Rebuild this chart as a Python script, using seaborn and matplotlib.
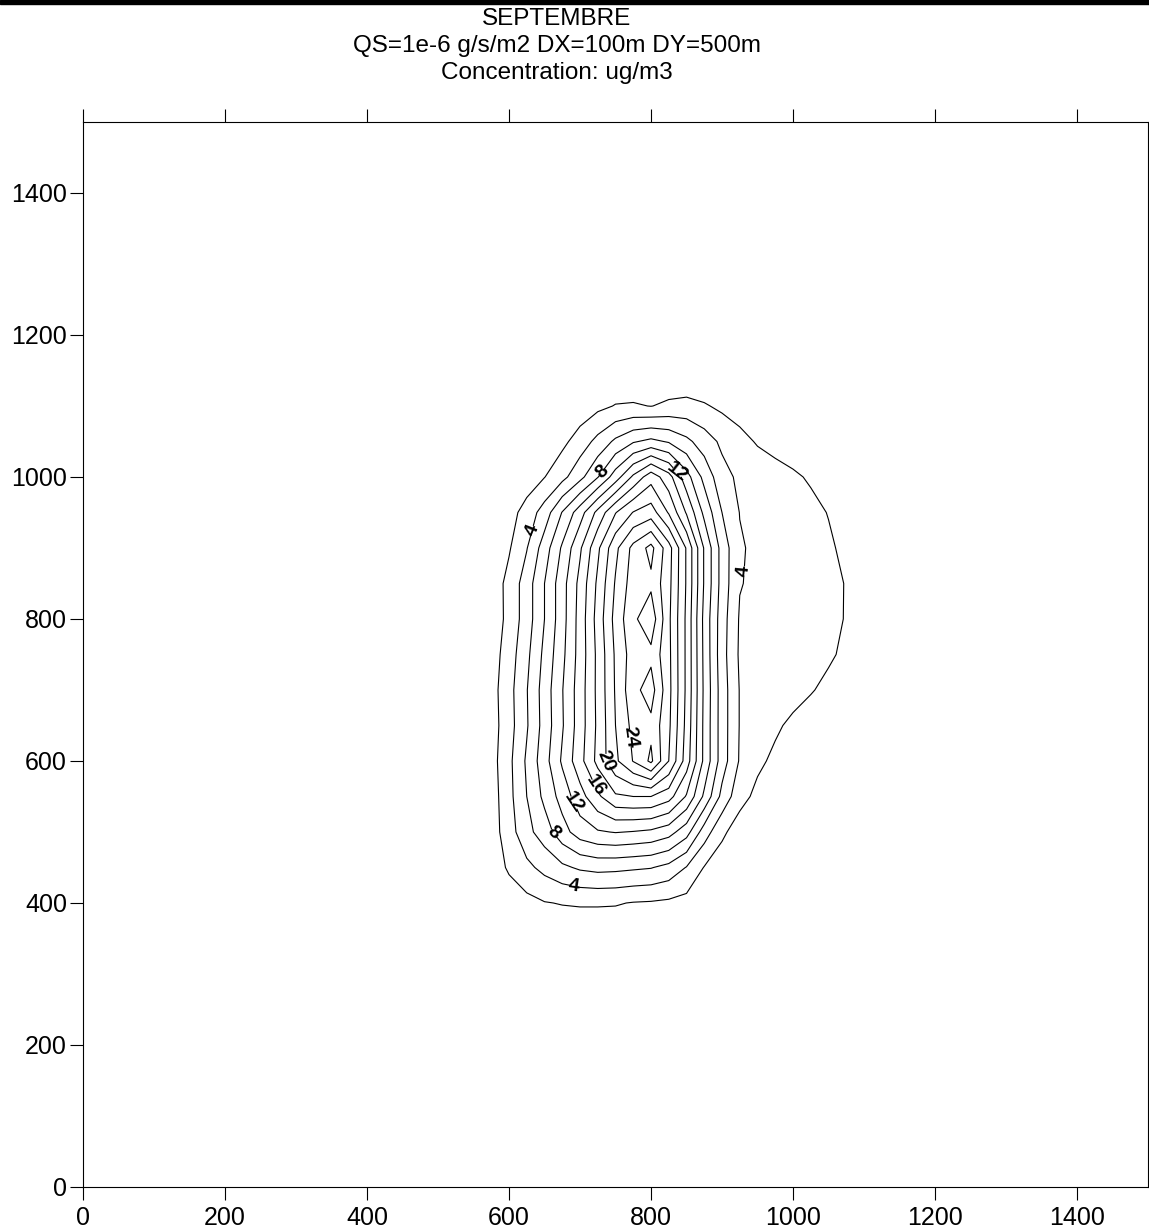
import numpy as np
import matplotlib
matplotlib.use('Agg')
import matplotlib.pyplot as plt
import seaborn as sns

# grid nodes (m) of the concentration field
x_grid = [550, 575, 600, 625, 650, 675, 700, 725, 750, 775, 800, 825,
          850, 875, 900, 925, 950, 975, 1000, 1025, 1050, 1075, 1100]
y_grid = [350, 400, 450, 500, 550, 600, 650, 700, 750, 800, 850, 900,
          950, 1000, 1050, 1100, 1150]

# concentration (ug/m3), one row per y_grid value
conc_y350 = [0.1, 0.1, 0.1, 0.2, 0.3, 0.4, 0.4, 0.4, 0.4, 0.3, 0.3, 0.2, 0.1, 0.1, 0.1, 0.1, 0.1, 0.1, 0.1, 0.1, 0.1, 0.1, 0.1]
conc_y400 = [0.1, 0.2, 0.8, 1.4, 1.9, 2.1, 2.2, 2.2, 2.15, 1.9, 1.8, 1.6, 1.3, 0.8, 0.4, 0.2, 0.1, 0.1, 0.1, 0.1, 0.1, 0.1, 0.1]
conc_y450 = [0.1, 0.8, 2.3, 3.5, 4.6, 5.6, 6.3, 6.6, 6.5, 6.3, 6.1, 5.4, 3.9, 1.9, 0.9, 0.4, 0.2, 0.1, 0.1, 0.1, 0.1, 0.1, 0.1]
conc_y500 = [0.1, 1.0, 3.1, 5.4, 7.0, 9.2, 11.0, 11.8, 12.1, 11.9, 11.6, 10.8, 8.8, 5.0, 2.4, 1.0, 0.5, 0.2, 0.1, 0.1, 0.1, 0.1, 0.1]
conc_y550 = [0.1, 1.0, 3.4, 6.0, 8.5, 10.8, 13.2, 15.6, 17.7, 18.0, 18.0, 16.8, 13.8, 9.6, 5.4, 2.7, 1.5, 0.8, 0.4, 0.2, 0.1, 0.1, 0.1]
conc_y600 = [0.1, 1.2, 3.5, 6.3, 9.2, 12.3, 15.3, 18.6, 21.6, 24.1, 26.4, 22.0, 17.0, 11.5, 7.0, 3.8, 2.4, 1.6, 1.0, 0.5, 0.2, 0.1, 0.1]
conc_y650 = [0.1, 1.1, 3.2, 5.8, 8.8, 11.8, 15.0, 18.4, 22.0, 24.6, 25.5, 22.4, 17.4, 11.5, 7.0, 3.9, 3.0, 2.3, 1.6, 1.0, 0.5, 0.2, 0.1]
conc_y700 = [0.1, 1.2, 3.3, 5.9, 8.9, 11.9, 15.0, 18.5, 22.2, 25.4, 26.9, 22.6, 17.6, 11.6, 7.0, 3.9, 3.4, 3.1, 2.7, 2.15, 1.5, 0.8, 0.3]
conc_y750 = [0.1, 1.0, 3.0, 5.5, 8.5, 11.5, 14.8, 18.5, 22.3, 25.0, 25.5, 22.5, 17.6, 11.5, 6.8, 3.7, 3.5, 3.3, 3.1, 2.8, 2.3, 1.6, 0.7]
conc_y800 = [0.1, 0.7, 2.6, 5.0, 8.0, 11.2, 14.8, 18.8, 22.7, 25.6, 27.3, 22.4, 17.6, 11.4, 6.9, 3.8, 3.6, 3.4, 3.2, 2.9, 2.5, 1.9, 1.0]
conc_y850 = [0.1, 0.8, 2.6, 5.0, 8.0, 11.2, 14.6, 18.4, 22.2, 25.0, 25.6, 22.6, 17.8, 11.8, 7.2, 4.1, 3.6, 3.4, 3.2, 3.0, 2.6, 1.9, 1.0]
conc_y900 = [0.1, 0.5, 1.8, 3.9, 7.0, 10.3, 13.7, 17.6, 21.5, 24.6, 26.6, 22.8, 17.8, 11.8, 7.2, 4.2, 3.6, 3.4, 3.2, 3.0, 2.4, 1.4, 0.6]
conc_y950 = [0.1, 0.4, 1.2, 2.8, 4.9, 8.1, 11.1, 14.6, 17.9, 20.1, 21.0, 17.8, 13.8, 9.5, 6.0, 3.95, 3.6, 3.4, 3.2, 2.7, 1.9, 1.0, 0.4]
conc_y1000 = [0.1, 0.2, 0.4, 0.9, 1.95, 3.4, 5.4, 7.9, 11.0, 14.4, 17.2, 14.8, 10.8, 7.4, 4.7, 3.6, 3.3, 3.0, 2.4, 1.7, 0.9, 0.4, 0.2]
conc_y1050 = [0.1, 0.1, 0.2, 0.3, 0.6, 1.5, 2.9, 4.6, 6.4, 7.8, 8.5, 7.8, 6.5, 5.0, 3.6, 2.7, 1.8, 1.1, 0.6, 0.3, 0.2, 0.1, 0.1]
conc_y1100 = [0.1, 0.1, 0.1, 0.1, 0.1, 0.3, 0.8, 1.5, 2.1, 2.2, 1.95, 2.4, 2.6, 2.2, 1.6, 1.0, 0.6, 0.3, 0.2, 0.1, 0.1, 0.1, 0.1]
conc_y1150 = [0.1, 0.1, 0.1, 0.1, 0.1, 0.1, 0.1, 0.1, 0.2, 0.2, 0.2, 0.2, 0.2, 0.1, 0.1, 0.1, 0.1, 0.1, 0.1, 0.1, 0.1, 0.1, 0.1]

plain_levels = [2, 6, 10, 14, 18, 22, 26]   # lines without a number
label_levels = [4, 8, 12, 16, 20, 24]       # lines carrying a number
ticks = [0, 200, 400, 600, 800, 1000, 1200, 1400]

title_txt = 'SEPTEMBRE\nQS=1e-6 g/s/m2 DX=100m DY=500m\nConcentration: ug/m3'

conc = np.array([conc_y350, conc_y400, conc_y450, conc_y500, conc_y550,
                 conc_y600, conc_y650, conc_y700, conc_y750, conc_y800,
                 conc_y850, conc_y900, conc_y950, conc_y1000, conc_y1050,
                 conc_y1100, conc_y1150])

sns.set_theme(style='ticks')
plt.rcParams['font.family'] = ['Liberation Sans', 'DejaVu Sans']

W, H = 1149, 1232
fig = plt.figure(figsize=(W / 100, H / 100), dpi=100)
ax = fig.add_axes([83 / W, 45 / H, 1065 / W, 1065 / H])

ax.contour(x_grid, y_grid, conc, levels=plain_levels,
           colors='black', linewidths=0.8)
cs = ax.contour(x_grid, y_grid, conc, levels=label_levels,
                colors='black', linewidths=0.8)

# where the numbers sit on the lines
label_pos = [(633, 925), (730, 1008), (837, 1007), (929, 868),
             (760, 632), (737, 600), (720, 564), (689, 539),
             (664, 501), (692, 427)]
lbls = ax.clabel(cs, manual=label_pos, fmt='%d',
                 fontsize=14, inline=True, inline_spacing=3)
for t in lbls:
    t.set_fontweight('bold')
    t.set_color('black')

ax.set_xlim(0, 1500)
ax.set_ylim(0, 1500)
ax.set_xticks(ticks)
ax.set_yticks(ticks)
ax.tick_params(axis='x', top=True, labeltop=False, direction='out',
               length=9.5, width=0.8, color='black', labelcolor='black',
               labelsize=18, pad=4)
ax.tick_params(axis='y', right=False, direction='out',
               length=9.5, width=0.8, color='black', labelcolor='black',
               labelsize=18, pad=2)
for sp in ax.spines.values():
    sp.set_color('black')
    sp.set_linewidth(0.8)
ax.grid(False)

fig.text(557 / W, 1 - 8 / H, title_txt, ha='center', va='top',
         fontsize=17.5, color='black', linespacing=1.3)

# black bar along the top edge
fig.add_artist(plt.Rectangle((0, 1 - 3.5 / H), 1, 3.5 / H,
                             transform=fig.transFigure, color='black'))

fig.savefig('out.png', dpi=100)
